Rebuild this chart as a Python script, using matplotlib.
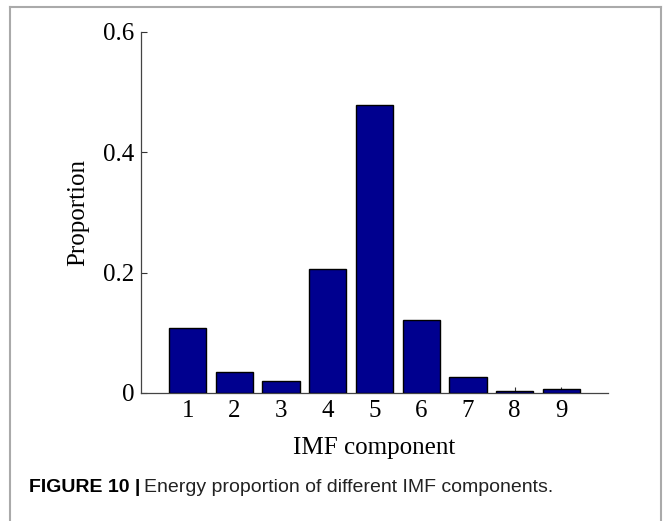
import matplotlib
matplotlib.use('Agg')
import matplotlib.pyplot as plt
from matplotlib.lines import Line2D

# Energy proportion of each IMF component
components = [1, 2, 3, 4, 5, 6, 7, 8, 9]
proportion = [0.108, 0.035, 0.020, 0.206, 0.479, 0.121, 0.027, 0.004, 0.006]
y_ticks = [0, 0.2, 0.4, 0.6]
y_tick_labels = ['0', '0.2', '0.4', '0.6']

fig = plt.figure(figsize=(6.63, 5.21), dpi=100)
ax = fig.add_axes([0.2127, 0.2457, 0.7043, 0.6929])

ax.bar(components, proportion, width=0.8, color='#00008f', edgecolor='black',
       linewidth=1.0, zorder=3)

ax.set_xlim(0, 10)
ax.set_ylim(0, 0.6)
ax.set_xticks(components)
ax.set_yticks(y_ticks)
ax.set_yticklabels(y_tick_labels)

serif = ['Liberation Serif', 'DejaVu Serif']
for lab in ax.get_xticklabels() + ax.get_yticklabels():
    lab.set_fontfamily(serif)
    lab.set_fontsize(18)

ax.tick_params(direction='in', length=4, width=0.8, color='#333333', pad=5)
ax.spines['top'].set_visible(False)
ax.spines['right'].set_visible(False)
for s in ['left', 'bottom']:
    ax.spines[s].set_color('#444444')
    ax.spines[s].set_linewidth(0.9)

ax.set_xlabel('IMF component', fontfamily=serif, fontsize=18, labelpad=11)
ax.set_ylabel('Proportion', fontfamily=serif, fontsize=18, labelpad=10)

# frame around the figure (open at the bottom)
fx0, fx1, fy1 = 10 / 663, 661 / 663, 1 - 7 / 521
for xs, ys in [([fx0, fx0], [0, fy1]), ([fx0, fx1], [fy1, fy1]), ([fx1, fx1], [fy1, 0])]:
    fig.add_artist(Line2D(xs, ys, transform=fig.transFigure, color='#aaaaaa', linewidth=1.5))

# caption: bold figure number followed by regular text
sans = ['Liberation Sans', 'DejaVu Sans']
t1 = fig.text(29 / 663, 1 - 487 / 521, 'FIGURE 10 |', fontfamily=sans, fontweight='bold',
              fontsize=14, va='center', ha='left')
fig.canvas.draw()
bb = t1.get_window_extent()
fig.text((bb.x1 + 4) / fig.bbox.width, 1 - 487 / 521,
         'Energy proportion of different IMF components.', fontfamily=sans,
         fontsize=14, va='center', ha='left', color='#222222')

fig.savefig('out.png', dpi=100)
